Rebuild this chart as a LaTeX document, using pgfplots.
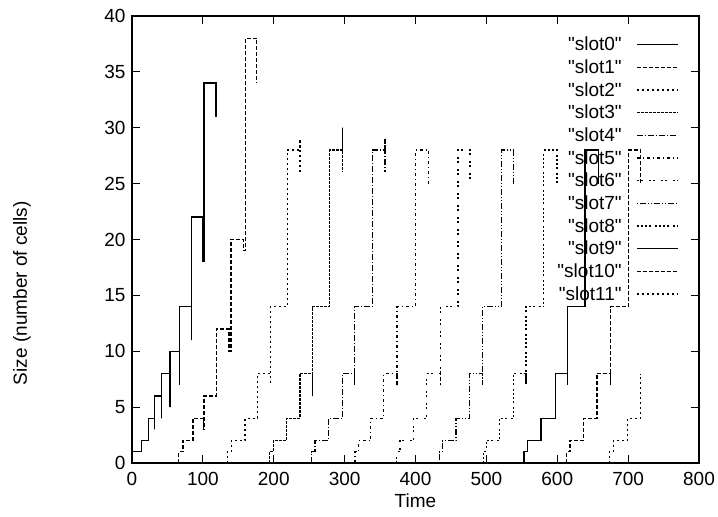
\documentclass[border=0pt]{standalone}
\usepackage{fontspec}
\setmainfont{Liberation Sans}
\usepackage{pgfplots}
\pgfplotsset{compat=1.18}

\newcommand{\gfont}{\fontsize{19}{22}\selectfont}
\newcommand{\q}[1]{\textquotedbl#1\textquotedbl}

\begin{document}
\begin{tikzpicture}
\path[use as bounding box] (-132pt,-54pt) rectangle (586pt,463pt);
\begin{axis}[
    at={(0pt,0pt)}, anchor=south west,
    scale only axis, width=567pt, height=447pt,
    xmin=0, xmax=800, ymin=0, ymax=40,
    xtick={0,100,...,800}, ytick={0,5,...,40},
    tick align=inside, major tick length=8pt,
    axis line style={line width=1.2pt},
    tick style={black, line width=1pt},
    /pgf/number format/assume math mode=true,
    tick label style={font=\gfont},
    xticklabel style={yshift=-6pt},
    yticklabel style={xshift=-3pt},
    label style={font=\gfont},
    xlabel={Time},
    ylabel={Size (number of cells)},
    xlabel style={at={(axis description cs:0.5,-0.085)}, anchor=center},
    ylabel style={at={(axis description cs:-0.194,0.38)}, anchor=center},
    every axis plot/.append style={black, line width=1.3pt, const plot},
    legend plot pos=right,
    legend cell align=right,
    legend image code/.code={\draw[#1] (0pt,0pt) -- (41pt,0pt);},
    legend style={draw=none, fill=none, font=\gfont,
        at={(axis description cs:0.9647,0.953)}, anchor=north east,
        inner sep=0pt, outer sep=0pt, row sep=7.4pt,
        nodes={inner sep=0pt},
        /tikz/every odd column/.append style={column sep=15pt}},
]

% slot0
\addplot[solid] coordinates {(0,1) (13.6,2) (23,4) (31.5,3) (31.5,6) (42,4) (42,8)
  (53.5,5) (53.5,10) (67.5,7) (67.5,14) (84,11) (84,22) (100,18) (101.5,34) (118.5,31)};
\addlegendentry{\q{slot0}}
% slot1
\addplot[dash pattern=on 4pt off 2pt] coordinates {(66,0) (66,1) (72,2) (86,4) (100.5,3)
  (101.5,6) (119.5,12) (137,10) (139.5,20) (157,19) (160.5,38) (176,34)};
\addlegendentry{\q{slot1}}
% slot2
\addplot[dash pattern=on 2pt off 3pt] coordinates {(134.5,0) (134.5,1) (140,2) (159.5,4)
  (177.5,8) (195,7) (195,14) (219,28) (237,29) (237,26)};
\addlegendentry{\q{slot2}}
% slot3
\addplot[dash pattern=on 3pt off 1pt] coordinates {(194,0) (194,1) (199.5,2) (217.5,4)
  (237,8) (255,6) (255,14) (279,28) (297,30) (297,26)};
\addlegendentry{\q{slot3}}
% slot4
\addplot[dash pattern=on 6pt off 2pt on 1pt off 2pt] coordinates {(253.5,0) (253.5,1)
  (258,2) (277,4) (297,8) (314,7) (314,14) (339,28) (357,29) (357,26)};
\addlegendentry{\q{slot4}}
% slot5
\addplot[dash pattern=on 3pt off 3pt on 1pt off 3pt] coordinates {(314.5,0) (314.5,1)
  (319.5,2) (337,4) (355,8) (374,7) (374,14) (400,28) (418,25)};
\addlegendentry{\q{slot5}}
% slot6
\addplot[dash pattern=on 2pt off 2pt on 2pt off 6pt] coordinates {(373.5,0) (373.5,1)
  (378,2) (397,4) (416,8) (435,7) (435,14) (460,28) (477,25)};
\addlegendentry{\q{slot6}}
% slot7
\addplot[dash pattern=on 1pt off 2pt on 6pt off 2pt on 1pt off 2pt] coordinates {(433.5,0)
  (433.5,1) (438,2) (457,4) (476,8) (495,7) (495,14) (521.5,28) (538,25)};
\addlegendentry{\q{slot7}}
% slot8
\addplot[dash pattern=on 2pt off 2pt on 2pt off 2pt on 2pt off 2pt on 2pt off 4pt]
  coordinates {(496,0) (496,1) (500.5,2) (519,4) (538,8) (556,7) (556,14) (581,28) (599.5,25)};
\addlegendentry{\q{slot8}}
% slot9
\addplot[solid] coordinates {(553,0) (553,1) (558,2) (577,4) (597.5,8) (614,7) (614,14)
  (639,28) (658,25)};
\addlegendentry{\q{slot9}}
% slot10
\addplot[dash pattern=on 4pt off 2pt] coordinates {(613.5,0) (613.5,1) (618,2) (637,4)
  (656,8) (675,7) (675,14) (700.5,28) (717,25)};
\addlegendentry{\q{slot10}}
% slot11
\addplot[dash pattern=on 2pt off 3pt] coordinates {(673.5,0) (673.5,1) (679,2) (699,4)
  (717,8)};
\addlegendentry{\q{slot11}}

\end{axis}
\end{tikzpicture}
\end{document}
